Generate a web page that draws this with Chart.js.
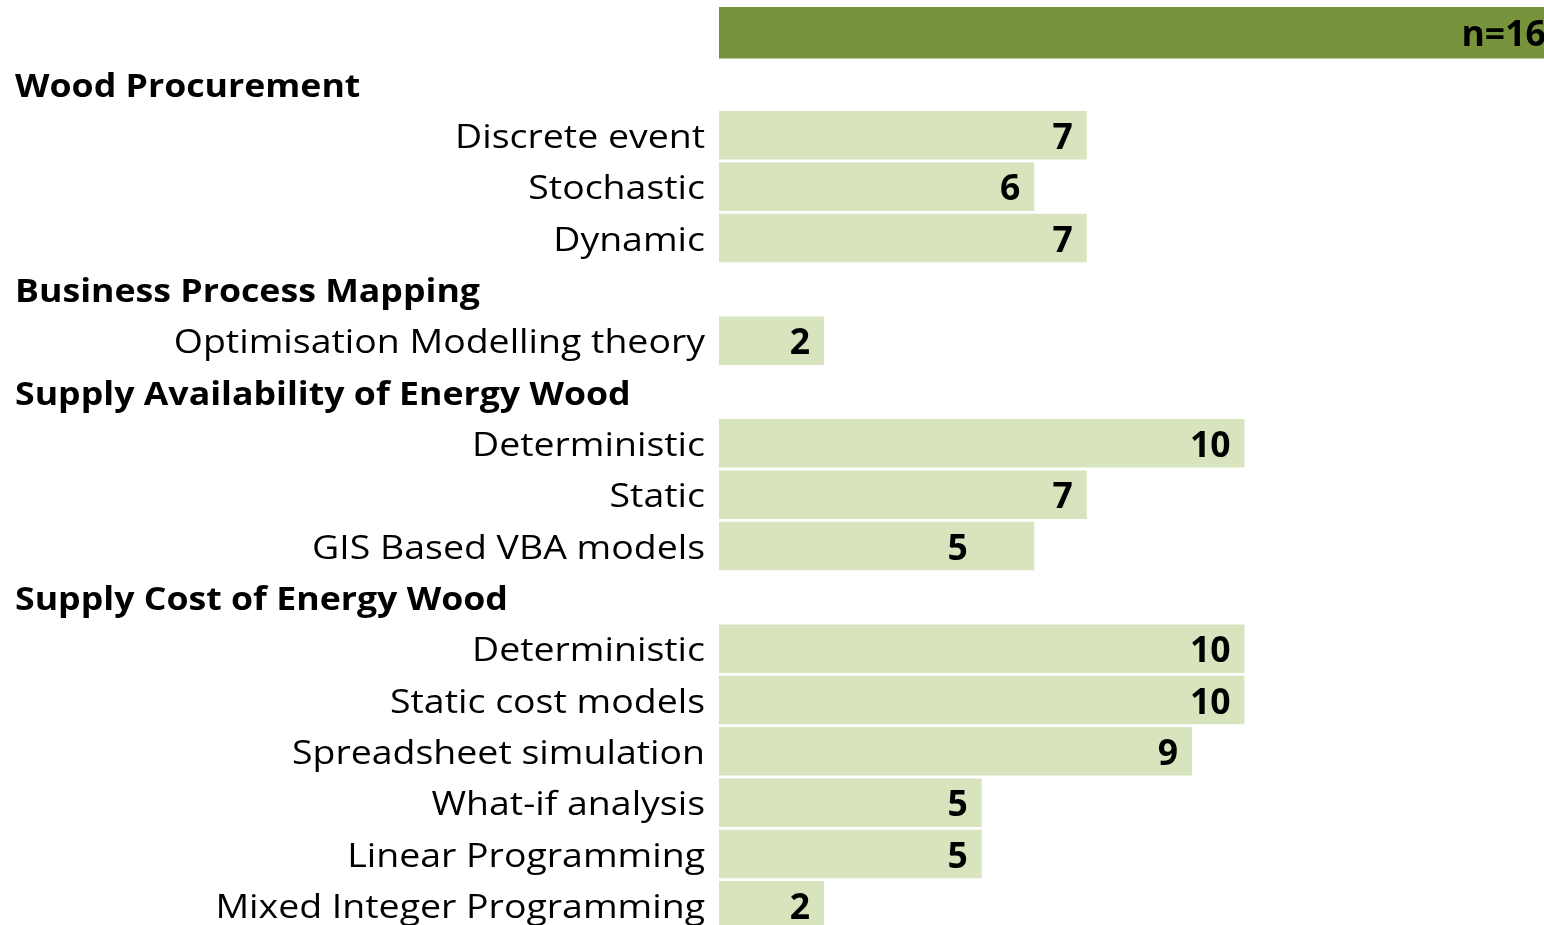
<!DOCTYPE html>
<html>
<head>
<meta charset="utf-8">
<script src="https://cdn.jsdelivr.net/npm/chart.js@4"></script>
<style>
  html, body { margin: 0; padding: 0; background: #fff; overflow: hidden; }
  #wrap { position: relative; width: 1544px; height: 940px; }
</style>
</head>
<body>
<div id="wrap"><canvas id="chart"></canvas></div>
<script>
// row labels, top to bottom
const categories = [
    'n', 'Wood Procurement', 'Discrete event', 'Stochastic', 'Dynamic',
    'Business Process Mapping', 'Optimisation Modelling theory',
    'Supply Availability of Energy Wood', 'Deterministic', 'Static', 'GIS Based VBA models',
    'Supply Cost of Energy Wood', 'Deterministic', 'Static cost models', 'Spreadsheet simulation',
    'What-if analysis', 'Linear Programming', 'Mixed Integer Programming'
];
const isHeader = [false, true, false, false, false, true, false, true, false, false, false,
    true, false, false, false, false, false, false];

// total respondents bar (first row only)
const totalValues = [16, null, null, null, null, null, null, null, null, null, null,
    null, null, null, null, null, null, null];

// bar lengths as drawn
const countValues = [null, null, 7, 6, 7, null, 2, null, 10, 7, 6, null, 10, 10, 9, 5, 5, 2];

// values printed on the bars (GIS row prints 5 though its bar is longer)
const labelValues = [16, null, 7, 6, 7, null, 2, null, 10, 7, 5, null, 10, 10, 9, 5, 5, 2];

const darkGreen = '#77933C';
const lightGreen = '#D7E4BD';

// draws the row labels and the numbers on the bars
const labelPlugin = {
    id: 'rowLabels',
    afterDatasetsDraw(chart) {
        const ctx = chart.ctx;
        const x = chart.scales.x;
        const y = chart.scales.y;

        ctx.save();
        ctx.fillStyle = '#000';
        ctx.textBaseline = 'alphabetic';

        categories.forEach((name, i) => {
            const cy = y.getPixelForValue(i);
            if (i > 0) {
                ctx.save();
                if (isHeader[i]) {
                    ctx.font = 'bold 32px "Open Sans"';
                    ctx.textAlign = 'left';
                    ctx.translate(15, cy + 12.7);
                    ctx.scale(1.115, 1);
                } else {
                    ctx.font = '33px "Open Sans"';
                    ctx.textAlign = 'right';
                    ctx.translate(705, cy + 12.8);
                    ctx.scale(1.135, 1);
                }
                ctx.fillText(name, 0, 0);
                ctx.restore();
            }

            const v = labelValues[i];
            if (v !== null) {
                ctx.font = 'bold 35.5px "Open Sans"';
                ctx.textAlign = 'right';
                const txt = i === 0 ? 'n=' + v : String(v);
                ctx.fillText(txt, x.getPixelForValue(v) - 14, cy + 13.8);
            }
        });
        ctx.restore();
    }
};

new Chart(document.getElementById('chart'), {
    type: 'bar',
    data: {
        labels: categories,
        datasets: [{
            data: totalValues,
            backgroundColor: darkGreen,
            barPercentage: 1.01,
            categoryPercentage: 1,
            grouped: false
        }, {
            data: countValues,
            backgroundColor: lightGreen,
            barPercentage: 0.945,
            categoryPercentage: 1,
            grouped: false
        }]
    },
    options: {
        indexAxis: 'y',
        responsive: true,
        maintainAspectRatio: false,
        animation: false,
        layout: { padding: { left: 719, right: 0, top: 7, bottom: 9 } },
        plugins: {
            legend: { display: false },
            tooltip: { enabled: false }
        },
        scales: {
            x: { display: false, min: 0, max: 15.7 },
            y: { display: false }
        }
    },
    plugins: [labelPlugin]
});
</script>
</body>
</html>
